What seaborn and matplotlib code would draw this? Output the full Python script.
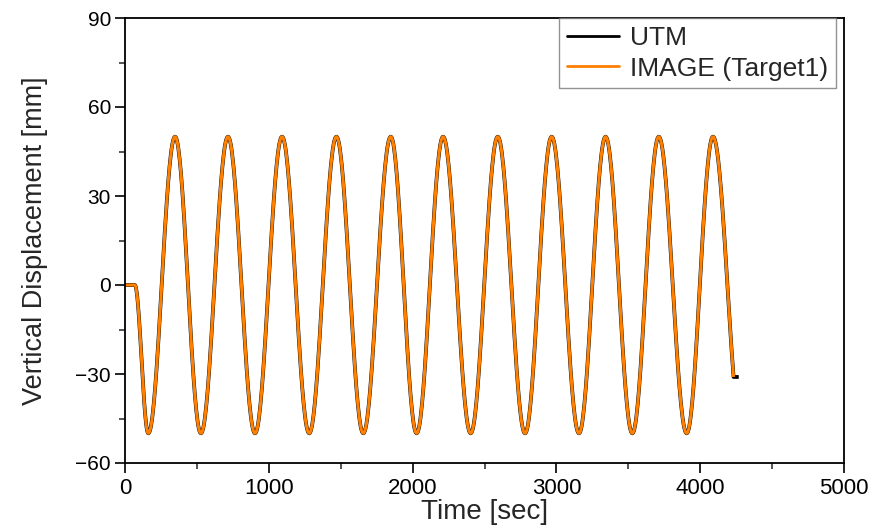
import numpy as np
import pandas as pd
import matplotlib
matplotlib.use("Agg")
import matplotlib.pyplot as plt
from matplotlib.ticker import MultipleLocator
import seaborn as sns

# ---- data (times in sec, displacement in mm) ----
start_t = [0, 68]
start_v = [0, 0]
peak_t = [348, 716, 1092, 1470, 1848, 2212, 2592, 2967, 3342, 3712, 4089]
trough_t = [162, 528, 904, 1281, 1657, 2028, 2404, 2782, 3157, 3528, 3906]
peak_v = 50
trough_v = -50
end_t = 4232
end_v = -31
utm_tail_t = 4268

series_names = ["UTM", "IMAGE (Target1)"]
series_colors = ["#000000", "#FF8000"]


def build_curve(with_tail):
    kt = list(start_t)
    kv = list(start_v)
    ext = sorted([(t, peak_v) for t in peak_t] + [(t, trough_v) for t in trough_t])
    for t, v in ext:
        kt.append(t)
        kv.append(v)
    ts, vs = [kt[0]], [kv[0]]
    for i in range(len(kt) - 1):
        t0, t1, v0, v1 = kt[i], kt[i + 1], kv[i], kv[i + 1]
        s = np.linspace(0, 1, 40)[1:]
        ts.extend(t0 + (t1 - t0) * s)
        vs.extend(v0 + (v1 - v0) * (1 - np.cos(np.pi * s)) / 2)
    # final descending segment, cut before reaching the trough
    frac = (peak_v - end_v) / (peak_v - trough_v)
    s_end = np.arccos(1 - 2 * frac) / np.pi
    s = np.linspace(0, s_end, 40)[1:]
    ts.extend(kt[-1] + (end_t - kt[-1]) * s / s_end)
    vs.extend(peak_v + (trough_v - peak_v) * (1 - np.cos(np.pi * s)) / 2)
    if with_tail:
        ts.append(utm_tail_t)
        vs.append(end_v)
    return np.array(ts), np.array(vs)


frames = []
for name in series_names:
    t, v = build_curve(with_tail=(name == "UTM"))
    frames.append(pd.DataFrame({"Time": t, "Disp": v, "Series": name}))
df = pd.concat(frames, ignore_index=True)

sns.set_style("ticks")
plt.rcParams["font.family"] = ["Liberation Sans", "DejaVu Sans"]

fig = plt.figure(figsize=(8.82, 5.25), dpi=100)
ax = fig.add_axes([125 / 882, 62 / 525, 719 / 882, 445 / 525])

sns.lineplot(data=df, x="Time", y="Disp", hue="Series", palette=dict(zip(series_names, series_colors)),
             sort=False, estimator=None, ax=ax, legend=False)
lines = ax.get_lines()
for ln, lw in zip(lines, [2.7, 2.2]):
    ln.set_linewidth(lw)
    ln.set_solid_capstyle("butt")

ax.set_xlim(0, 5000)
ax.set_ylim(-60, 90)
ax.xaxis.set_major_locator(MultipleLocator(1000))
ax.xaxis.set_minor_locator(MultipleLocator(500))
ax.yaxis.set_major_locator(MultipleLocator(30))
ax.yaxis.set_minor_locator(MultipleLocator(15))

for sp in ax.spines.values():
    sp.set_linewidth(1.3)
    sp.set_color("black")

ax.tick_params(axis="both", which="major", direction="out", length=7, width=1.2,
               colors="black", pad=3)
ax.tick_params(axis="both", which="minor", direction="out", length=4, width=1.1)
ax.tick_params(axis="y", which="major", labelsize=15)
ax.tick_params(axis="x", which="major", labelsize=16, pad=4)
ax.tick_params(top=False, right=False)

ax.set_xlabel("Time [sec]", fontsize=20, labelpad=0)
ax.set_ylabel("Vertical Displacement [mm]", fontsize=19.5, labelpad=20)

handles = [plt.Line2D([], [], color=c, lw=2) for c in series_colors]
leg = ax.legend(handles, series_names, loc="upper right", fontsize=19,
                frameon=True, fancybox=False, borderaxespad=0.0,
                bbox_to_anchor=(0.989, 1.0), handlelength=2.0, handletextpad=0.4,
                borderpad=0.3, labelspacing=0.25)
leg.get_frame().set_edgecolor("#777777")
leg.get_frame().set_linewidth(1.0)

fig.savefig("out.png", dpi=100)
